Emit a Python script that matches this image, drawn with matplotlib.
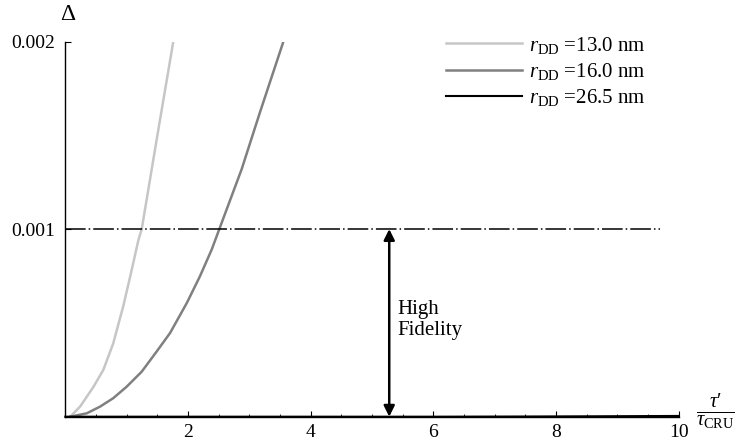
import matplotlib
matplotlib.use("Agg")
import matplotlib.pyplot as plt
from matplotlib.ticker import MultipleLocator

plt.rcParams['font.family'] = ['Liberation Serif', 'DejaVu Serif']
plt.rcParams['mathtext.fontset'] = 'custom'
plt.rcParams['mathtext.rm'] = 'Liberation Serif'
plt.rcParams['mathtext.it'] = 'Liberation Serif:italic'

# curves
x13 = [0.08, 0.24, 0.46, 0.62, 0.78, 0.945, 1.08, 1.19, 1.245, 1.516, 1.76]
y13 = [0, 0.0000535, 0.00016, 0.00025, 0.00039, 0.00059, 0.00078, 0.00094, 0.001, 0.00153, 0.002]

x16 = [0.08, 0.35, 0.565, 0.78, 1.0, 1.245, 1.49, 1.707, 1.98, 2.195, 2.386, 2.51, 2.875, 3.17, 3.555]
y16 = [0, 0.000018, 0.0000535, 0.0000984, 0.00016, 0.00024, 0.000348, 0.000446,
       0.000606, 0.000749, 0.000891, 0.001, 0.00132, 0.00162, 0.002]

x26 = [0, 2, 4, 6, 7.5, 8.5, 9.3, 10]
y26 = [0, 0, 0, 0, 0.000001, 0.000002, 0.000003, 0.000004]

labels = [r'$r_{\mathrm{DD}}$ =13.0 nm', r'$r_{\mathrm{DD}}$ =16.0 nm', r'$r_{\mathrm{DD}}$ =26.5 nm']
threshold = 0.001
threshold_end = 9.7
arrow_x = 5.28

fig = plt.figure(figsize=(7.35, 4.43), dpi=100)
ax = fig.add_axes([0.0889, 0.0594, 0.9235 - 0.0889, 0.9063 - 0.0594])

ax.plot(x13, y13, color='#c6c6c6', lw=1.8, label=labels[0])
ax.plot(x16, y16, color='#808080', lw=1.8, label=labels[1])
ax.plot(x26, y26, color='black', lw=1.5, label=labels[2], clip_on=False)

ax.plot([0, threshold_end], [threshold, threshold], color='black', lw=1.1,
        dashes=[13.5, 2, 1, 2])

ax.annotate('', xy=(arrow_x, threshold), xytext=(arrow_x, 0),
            arrowprops=dict(arrowstyle='<|-|>', color='black', lw=1.8,
                            mutation_scale=16, shrinkA=0, shrinkB=0))
ax.text(arrow_x + 0.14, 0.000515, 'High\nFidelity', fontsize=15,
        ha='left', va='center', linespacing=1.2)

ax.set_xlim(0, 10)
ax.set_ylim(0, 0.002)
ax.spines['top'].set_visible(False)
ax.spines['right'].set_visible(False)
ax.spines['left'].set_linewidth(1.0)
ax.spines['bottom'].set_linewidth(1.0)

ax.set_xticks([2, 4, 6, 8, 10])
ax.xaxis.set_minor_locator(MultipleLocator(0.5))
ax.set_yticks([0.001, 0.002])
ax.set_yticklabels(['0.001', '0.002'])
ax.tick_params(axis='both', which='major', direction='in', length=4.5, width=0.8,
               labelsize=14)
ax.tick_params(axis='x', which='major', pad=5)
ax.tick_params(axis='y', which='major', pad=7)
ax.tick_params(axis='x', which='minor', direction='in', length=2.5, width=0.6)

fig.text(68 / 735, 1 - 15 / 443, r'$\Delta$', fontsize=17, ha='center', va='center')
fig.text(716 / 735, 1 - 412 / 443, r'$\frac{\tau\prime}{\tau_{\mathrm{CRU}}}$',
         fontsize=21, ha='center', va='center')

ax.legend(loc='upper right', bbox_to_anchor=(0.976, 1.068), frameon=False, fontsize=15,
          handlelength=3.65, handletextpad=0.3, labelspacing=0.25)

fig.savefig('out.png', dpi=100)
